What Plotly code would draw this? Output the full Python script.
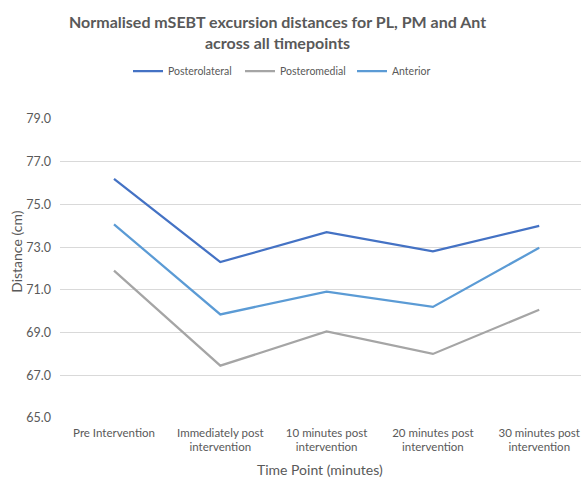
import plotly.graph_objects as go

categories = ["Pre Intervention", "Immediately post<br>intervention", "10 minutes post<br>intervention",
              "20 minutes post<br>intervention", "30 minutes post<br>intervention"]
posterolateral = [76.2, 72.3, 73.7, 72.8, 74.0]
posteromedial = [71.9, 67.45, 69.05, 68.0, 70.07]
anterior = [74.07, 69.85, 70.92, 70.2, 72.97]
y_ticks = [65, 67, 69, 71, 73, 75, 77, 79]

FONT = "Lato, Open Sans, sans-serif"
GRAY = "#595959"
PLOT_TOP, PLOT_BOTTOM, PLOT_LEFT, PLOT_W = 119, 418.3, 60, 521
PH = PLOT_BOTTOM - PLOT_TOP

def py(px):
    return (PLOT_BOTTOM - px) / PH

def pxx(px):
    return (px - PLOT_LEFT) / PLOT_W

fig = go.Figure()
xi = list(range(len(categories)))
for name, vals, col in [("Posterolateral", posterolateral, "#4472C4"),
                        ("Posteromedial", posteromedial, "#A5A5A5"),
                        ("Anterior", anterior, "#5B9BD5")]:
    fig.add_trace(go.Scatter(x=xi, y=vals, mode="lines", name=name,
                             line=dict(color=col, width=2.25)))

fig.update_layout(
    width=581, height=484,
    margin=dict(l=60, r=0, t=119, b=66, autoexpand=False),
    paper_bgcolor="white", plot_bgcolor="white",
    font=dict(family=FONT, color=GRAY, size=12),
    legend=dict(orientation="h", x=pxx(128), xanchor="left",
                y=py(71), yanchor="middle",
                font=dict(size=10.5, color=GRAY), itemwidth=30,
                entrywidth=67, entrywidthmode="pixels"),
    showlegend=True,
    xaxis=dict(tickmode="array", tickvals=xi, ticktext=categories,
               range=[-0.508, 4.393], showgrid=False, zeroline=False,
               showline=False, ticks="", ticklabelstandoff=6, ticklabeloverflow="allow",
               tickfont=dict(size=11.5, color=GRAY)),
    yaxis=dict(range=[65, 79], tickvals=y_ticks, ticktext=[f"{v:.1f}" for v in y_ticks],
               showgrid=True, gridcolor="#D9D9D9", gridwidth=1, zeroline=False,
               showline=False, ticks="", ticklabelstandoff=8,
               tickfont=dict(size=12.5, color=GRAY)),
    annotations=[
        dict(text="<b>Normalised mSEBT excursion distances for PL, PM and Ant<br>across all timepoints</b>",
             xref="paper", yref="paper", x=pxx(277), y=py(31.5),
             xanchor="center", yanchor="middle", showarrow=False,
             font=dict(size=16, color=GRAY)),
        dict(text="Distance (cm)", textangle=-90, xref="paper", yref="paper",
             x=pxx(17), y=py(252), xanchor="center", yanchor="middle",
             showarrow=False, font=dict(size=14, color=GRAY)),
        dict(text="Time Point (minutes)", xref="paper", yref="paper",
             x=pxx(320), y=py(470), xanchor="center", yanchor="middle",
             showarrow=False, font=dict(size=14, color=GRAY)),
    ],
)
fig.write_html("out.html", config={"displayModeBar": False},
               post_script="document.body.style.margin='0';")
